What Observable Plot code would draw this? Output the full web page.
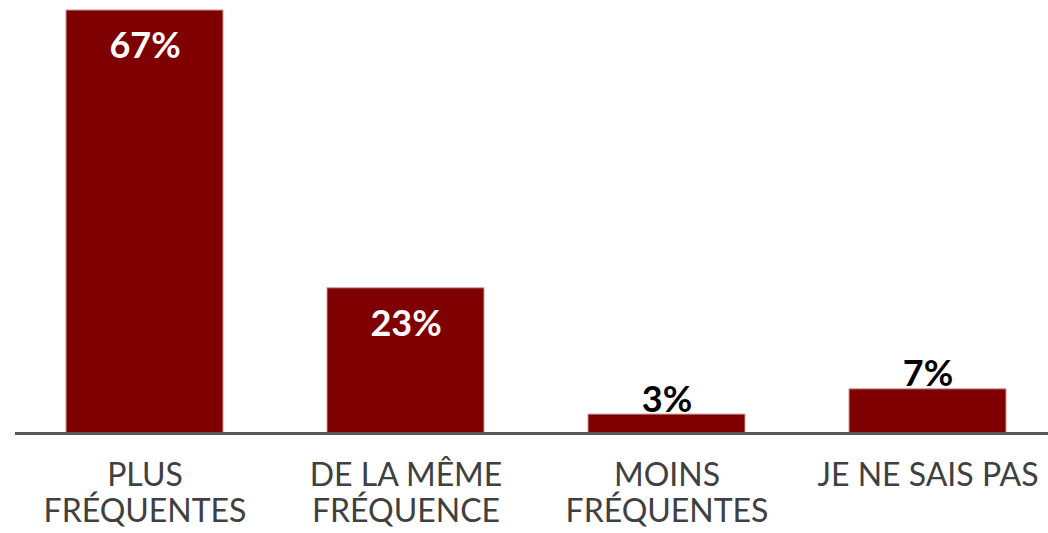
<!DOCTYPE html>
<html>
<head>
<meta charset="utf-8">
<script src="https://cdn.jsdelivr.net/npm/d3@7"></script>
<script src="https://cdn.jsdelivr.net/npm/@observablehq/plot@0.6"></script>
<style>
  html, body { margin: 0; padding: 0; background: #fff; }
  #chart { width: 1048px; height: 533px; }
</style>
</head>
<body>
<div id="chart"></div>
<script>
const categories = ["plus", "meme", "moins", "nsp"];
const tickLabels = ["PLUS\nFRÉQUENTES", "DE LA MÊME\nFRÉQUENCE", "MOINS\nFRÉQUENTES", "JE NE SAIS PAS"];
const values = [67, 23, 3, 7];
const valueLabels = ["67%", "23%", "3%", "7%"];

const data = categories.map((c, i) => ({cat: c, value: values[i], label: valueLabels[i]}));

const chart = Plot.plot({
  width: 1048,
  height: 533,
  marginLeft: 15,
  marginRight: 0,
  marginTop: 10,
  marginBottom: 100,
  style: {fontFamily: "Lato, 'Open Sans', sans-serif", background: "#fff"},
  x: {domain: categories, paddingInner: 0.4, paddingOuter: 0.177, align: 0.55, label: null},
  y: {domain: [0, 67], axis: null},
  marks: [
    Plot.barY(data, {x: "cat", y: "value", fill: "#7f0000", stroke: "#c99a9a", strokeWidth: 1}),
    Plot.ruleY([0], {stroke: "#595959", strokeWidth: 3}),
    Plot.text(data.filter(d => d.value >= 10), {x: "cat", y: "value", text: "label", dy: 36, fill: "#fff", fontSize: 36, fontWeight: "bold", lineAnchor: "middle"}),
    Plot.text(data.filter(d => d.value < 10), {x: "cat", y: "value", text: "label", dy: -3, fill: "#000", fontSize: 36, fontWeight: "bold", lineAnchor: "bottom"}),
    Plot.axisX({tickSize: 0, tickPadding: 27, fontSize: 32, lineHeight: 1.12, fill: "#404040", tickFormat: d => tickLabels[categories.indexOf(d)], label: null})
  ]
});
document.getElementById("chart").appendChild(chart);
</script>
</body>
</html>
